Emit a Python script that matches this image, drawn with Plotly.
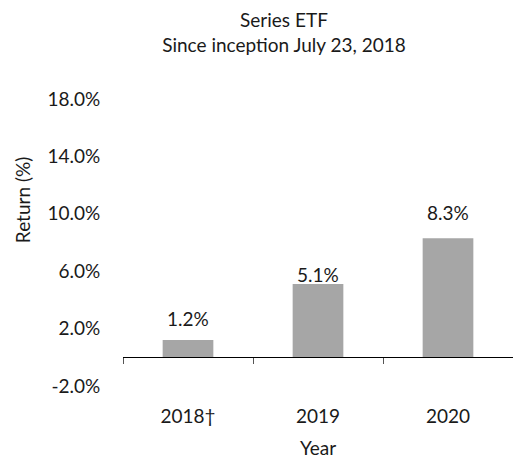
import plotly.graph_objects as go

years = ["2018†", "2019", "2020"]
returns = [1.2, 5.1, 8.3]
labels = ["1.2%", "5.1%", "8.3%"]
y_ticks = [-2, 2, 6, 10, 14, 18]
y_tick_text = ["-2.0%", "2.0%", "6.0%", "10.0%", "14.0%", "18.0%"]

label_shift = [22, 10, 26]  # pixel offset of label centre above bar top (style)

FONT = "Lato"
FS = 19
TXT = "#1a1a1a"

fig = go.Figure()
fig.add_trace(go.Bar(
    x=list(range(len(years))), y=returns,
    marker=dict(color="#A6A6A6", line=dict(width=0)),
    width=0.39, hoverinfo="skip", showlegend=False,
))

for i, (v, t) in enumerate(zip(returns, labels)):
    fig.add_annotation(x=i, y=v, xref="x", yref="y", text=t, showarrow=False,
                       yanchor="middle", yshift=label_shift[i],
                       font=dict(family=FONT, size=FS, color=TXT))

fig.add_annotation(x=(22 - 123) / 390, y=(386.5 - 200) / 288, xref="paper", yref="paper",
                   xanchor="center", yanchor="middle", text="Return (%)", textangle=-90,
                   showarrow=False, font=dict(family=FONT, size=FS, color=TXT))

fig.update_layout(
    width=513, height=459,
    margin=dict(l=123, r=0, t=98.5, b=72.5, autoexpand=False),
    paper_bgcolor="white", plot_bgcolor="white",
    title=dict(text="Series ETF<br>Since inception July 23, 2018",
               x=284 / 513, xref="container", xanchor="center",
               y=1 - 27 / 459, yref="container", yanchor="middle",
               font=dict(family=FONT, size=FS, color=TXT)),
    font=dict(family=FONT, size=FS, color=TXT),
    xaxis=dict(range=[-0.5, 2.5], tickvals=list(range(len(years))), ticktext=years,
               showline=False, showgrid=False, zeroline=False, automargin=False,
               ticks="outside", ticklen=13, tickcolor="rgba(0,0,0,0)",
               title=dict(text="Year", standoff=15, font=dict(family=FONT, size=FS, color=TXT)),
               tickfont=dict(family=FONT, size=FS, color=TXT)),
    xaxis2=dict(overlaying="x", anchor="free", position=0.1, range=[-0.5, 2.5],
                tickvals=[-0.5, 0.5, 1.5, 2.5], showticklabels=False, automargin=False,
                showline=True, linecolor="#000000", linewidth=1.3,
                ticks="outside", ticklen=6, tickcolor="#555555", tickwidth=1,
                showgrid=False, zeroline=False),
    yaxis=dict(range=[-2, 18], tickvals=y_ticks, ticktext=y_tick_text,
               showline=False, showgrid=False, zeroline=False, automargin=False,
               ticks="outside", ticklen=18, tickcolor="rgba(0,0,0,0)",
               tickfont=dict(family=FONT, size=FS, color=TXT)),
)
# invisible trace to activate the zero-line axis
fig.add_trace(go.Scatter(x=[-0.5, 2.5], y=[0, 0], xaxis="x2", mode="lines",
                         line=dict(width=0), hoverinfo="skip", showlegend=False))

fig.write_html("out.html", config={"displayModeBar": False},
               post_script="document.body.style.margin='0';document.body.style.overflow='hidden';")
